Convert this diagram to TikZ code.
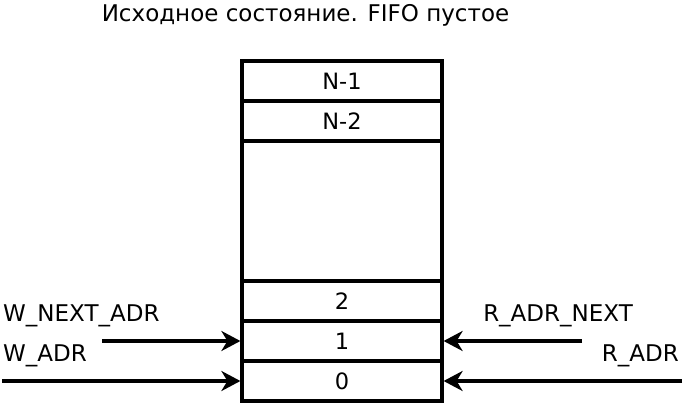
\documentclass[tikz,border=0pt]{standalone}
\usepackage{fontspec}
\setmainfont{DejaVu Sans}
\usetikzlibrary{arrows.meta, positioning, calc}

\begin{document}
\begin{tikzpicture}[x=1pt, y=-1pt,
    cell/.style={rectangle, draw=black, line width=3.2pt, minimum width=200pt, minimum height=40pt, inner sep=0pt, font=\fontsize{22.5}{26}\selectfont},
    lbl/.style={inner sep=0pt, font=\fontsize{23}{27}\selectfont},
    arr/.style={-{Stealth[length=19pt, width=20pt, inset=6pt]}, line width=3.2pt}
  ]
    \useasboundingbox (0,0) rectangle (684,403);

    \node[lbl, anchor=base] (title) at (305.5,22) {Исходное состояние. FIFO пустое};

    % FIFO cells
    \node[cell] (cn1) at (342,81) {N-1};
    \node[cell] (cn2) at (342,121) {N-2};
    \node[cell, minimum height=140pt] (cmid) at (342,211) {};
    \node[cell] (c2) at (342,301) {2};
    \node[cell] (c1) at (342,341) {1};
    \node[cell] (c0) at (342,381) {0};

    % write side
    \node[lbl, anchor=base west] (wnext) at (3,321) {W\_NEXT\_ADR};
    \node[lbl, anchor=base west] (wadr) at (3,361) {W\_ADR};
    \coordinate (wnexts) at (102,341);
    \coordinate (wadrs) at (2,381);
    \draw[arr] (wnexts) -- (c1.west);
    \draw[arr] (wadrs) -- (c0.west);

    % read side
    \node[lbl, anchor=base east] (rnext) at (633,321) {R\_ADR\_NEXT};
    \node[lbl, anchor=base east] (radr) at (679,361) {R\_ADR};
    \coordinate (rnexts) at (582,341);
    \coordinate (radrs) at (682,381);
    \draw[arr] (rnexts) -- (c1.east);
    \draw[arr] (radrs) -- (c0.east);
\end{tikzpicture}
\end{document}
